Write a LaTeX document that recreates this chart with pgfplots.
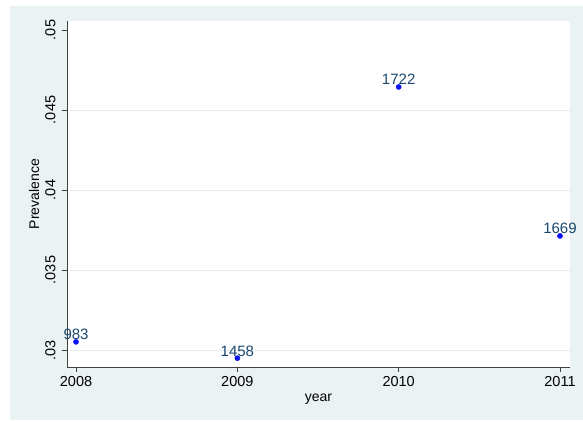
\documentclass[border=0pt]{standalone}
\usepackage{fontspec}
\setmainfont{Liberation Sans}
\usepackage{pgfplots}
\pgfplotsset{compat=1.18}
\definecolor{bgcol}{HTML}{EAF2F3}
\definecolor{gridcol}{HTML}{E6EEF1}
\definecolor{lblcol}{HTML}{1A476F}
\definecolor{markcol}{HTML}{0A14F0}
\definecolor{axcol}{HTML}{404040}
\newcommand\tickfont{\fontsize{14.5bp}{16bp}\selectfont}
\newcommand\titlefont{\fontsize{14bp}{16bp}\selectfont}
\newcommand\markfont{\fontsize{15bp}{17bp}\selectfont}
\begin{document}
\begin{tikzpicture}[font=\tickfont]
\useasboundingbox (-67bp,-55bp) rectangle (516bp,367bp);
\fill[bgcol] (-57bp,-53bp) rectangle (516bp,361bp);
\begin{axis}[
  at={(0,0)}, anchor=south west,
  scale only axis, width=503bp, height=346bp,
  xmin=2007.944, xmax=2011.062,
  ymin=0.02894, ymax=0.05056,
  scaled y ticks=false, scaled x ticks=false,
  axis background/.style={fill=white},
  axis x line*=bottom, axis y line*=left,
  axis line style={axcol, line width=0.8pt, -},
  tick style={axcol, line width=0.8pt},
  tick align=outside, major tick length=5bp,
  tick label style={font=\tickfont},
  label style={font=\titlefont},
  xtick={2008,2009,2010,2011},
  xticklabels={2008,2009,2010,2011},
  ytick={0.03,0.035,0.04,0.045},
  yticklabels={.03,.035,.04,.045},
  extra y ticks={0.05}, extra y tick labels={.05},
  extra y tick style={grid=none},
  ymajorgrids, grid style={gridcol, line width=0.8pt},
  yticklabel style={rotate=90, anchor=south, yshift=3bp},
  xticklabel style={yshift=-1bp},
  xlabel={year}, ylabel={Prevalence},
  xlabel style={yshift=0bp},
  ylabel style={yshift=-11bp},
  clip=false,
]
\addplot[only marks, mark=*, mark size=2.6bp, color=markcol,
  nodes near coords, point meta=explicit symbolic,
  every node near coord/.style={color=lblcol, font=\markfont, anchor=south, yshift=-1.5bp}]
  table[meta=n] {
  x     y        n
  2008  0.03051  983
  2009  0.02949  1458
  2010  0.04644  1722
  2011  0.03713  1669
};
\end{axis}
\end{tikzpicture}
\end{document}
